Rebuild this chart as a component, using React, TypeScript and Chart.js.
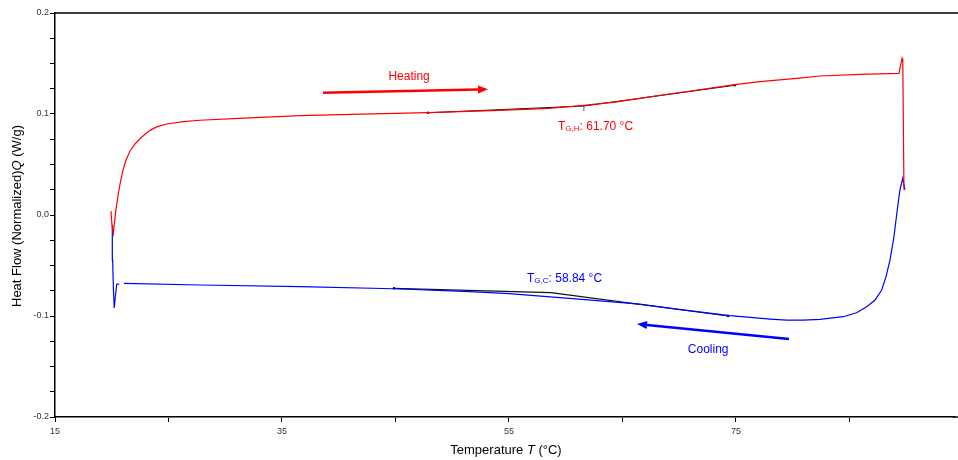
import React, { useEffect, useRef } from 'react';
import { Chart, registerables } from 'chart.js';

Chart.register(...registerables);

// ---- data (Temperature °C, normalized heat flow W/g) ----
const heatingT = [19.93, 20.02, 20.14, 20.24, 20.37, 20.55, 20.73, 20.99, 21.26, 21.61, 22.05, 22.49, 22.93, 23.37, 23.96, 24.84, 26.3, 27.78, 30.71, 33.65, 36.59, 42.0, 47.86, 54.2, 58.5, 61.6, 64.5, 67.4, 71.0, 74.9, 77.1, 80.6, 82.4, 85.9, 89.36, 89.63, 89.7, 89.8];
const heatingQ = [0.004, -0.010, -0.018, -0.0069, 0.005, 0.0188, 0.0307, 0.0446, 0.0545, 0.0634, 0.0703, 0.0755, 0.080, 0.0838, 0.0872, 0.0901, 0.0924, 0.0938, 0.0954, 0.097, 0.0983, 0.0998, 0.1013, 0.1035, 0.1056, 0.1086, 0.112, 0.117, 0.1228, 0.129, 0.132, 0.1356, 0.1376, 0.1393, 0.1403, 0.155, 0.151, 0.025];

const coolingT = [89.89, 89.69, 89.45, 89.21, 88.92, 88.57, 88.22, 87.84, 87.25, 86.52, 85.63, 84.45, 82.4, 80.93, 79.47, 78.0, 76.52, 74.47, 70.0, 66.5, 62.0, 58.35, 55.0, 51.56, 44.87, 36.59, 27.78, 21.08, 20.9, 20.67, 20.44, 20.33, 20.22, 20.15, 20.08, 20.05];
const coolingQ = [0.0248, 0.0363, 0.0248, 0.005, -0.0215, -0.0446, -0.0611, -0.0743, -0.0842, -0.0908, -0.0968, -0.1007, -0.1033, -0.104, -0.104, -0.103, -0.1017, -0.0997, -0.0935, -0.0883, -0.084, -0.0809, -0.0778, -0.0759, -0.073, -0.071, -0.0693, -0.0676, null, -0.0683, -0.0686, -0.0792, -0.0921, -0.0743, -0.0446, -0.0099];

const heatTangentT = [47.86, 61.6, 74.9];
const heatTangentQ = [0.1013, 0.1079, 0.1284];
const coolTangentT = [44.87, 58.7, 74.3];
const coolTangentQ = [-0.0726, -0.0769, -0.1];

// ---- ticks ----
const xTickValues = [15, 25, 35, 45, 55, 65, 75, 85];
const xTickLabels = ['15', '', '35', '', '55', '', '75', ''];
const yTickValues = [-0.2, -0.175, -0.15, -0.125, -0.1, -0.075, -0.05, -0.025, 0, 0.025, 0.05, 0.075, 0.1, 0.125, 0.15, 0.175, 0.2];
const yTickLabels = ['-0.2', '', '', '', '-0.1', '', '', '', '0.0', '', '', '', '0.1', '', '', '', '0.2'];

// ---- annotations (in data coordinates) ----
const heatingArrowT = [38.61, 53.15];
const heatingArrowQ = [0.1211, 0.1245];
const coolingArrowT = [79.67, 66.28];
const coolingArrowQ = [-0.1228, -0.1079];
const heatingLabelPos = [46.2, 0.1366];
const coolingLabelPos = [72.55, -0.1337];
const tghLabelPos = [59.32, 0.0874];
const tgcLabelPos = [56.59, -0.0634];

const FONT = '"Liberation Sans", Arial, Helvetica, sans-serif';
const RED = 'rgb(255,0,0)';
const BLUE = 'rgb(0,0,255)';

const pts = (xs: number[], ys: (number | null)[]) => xs.map((x, i) => ({ x, y: ys[i] }));

function drawArrow(ctx: CanvasRenderingContext2D, x1: number, y1: number, x2: number, y2: number, color: string) {
  const ang = Math.atan2(y2 - y1, x2 - x1);
  const headLen = 10;
  const headW = 4;
  const bx = x2 - Math.cos(ang) * headLen;
  const by = y2 - Math.sin(ang) * headLen;
  ctx.save();
  ctx.strokeStyle = color;
  ctx.fillStyle = color;
  ctx.lineWidth = 2.6;
  ctx.beginPath();
  ctx.moveTo(x1, y1);
  ctx.lineTo(bx, by);
  ctx.stroke();
  ctx.beginPath();
  ctx.moveTo(x2, y2);
  ctx.lineTo(bx + Math.sin(ang) * headW, by - Math.cos(ang) * headW);
  ctx.lineTo(bx - Math.sin(ang) * headW, by + Math.cos(ang) * headW);
  ctx.closePath();
  ctx.fill();
  ctx.restore();
}

function drawSubLabel(ctx: CanvasRenderingContext2D, x: number, y: number, sub: string, rest: string, color: string) {
  ctx.save();
  ctx.fillStyle = color;
  ctx.textBaseline = 'middle';
  ctx.textAlign = 'left';
  ctx.font = `12px ${FONT}`;
  ctx.fillText('T', x, y);
  let cx = x + ctx.measureText('T').width;
  ctx.font = `8px ${FONT}`;
  ctx.fillText(sub, cx, y + 2);
  cx += ctx.measureText(sub).width;
  ctx.font = `12px ${FONT}`;
  ctx.fillText(rest, cx, y);
  ctx.restore();
}

function drawMixed(ctx: CanvasRenderingContext2D, cx: number, cy: number, parts: [string, boolean][], size: number) {
  let total = 0;
  const widths = parts.map(([t, it]) => {
    ctx.font = `${it ? 'italic ' : ''}${size}px ${FONT}`;
    const w = ctx.measureText(t).width;
    total += w;
    return w;
  });
  let x = cx - total / 2;
  parts.forEach(([t, it], i) => {
    ctx.font = `${it ? 'italic ' : ''}${size}px ${FONT}`;
    ctx.fillText(t, x, cy);
    x += widths[i];
  });
}

const decorPlugin = {
  id: 'decor',
  afterDatasetsDraw(chart: any) {
    const { ctx, chartArea } = chart;
    const xs = chart.scales.x;
    const ys = chart.scales.y;
    ctx.save();
    // top frame line and bottom axis continued to the canvas edge
    ctx.strokeStyle = '#000';
    ctx.lineWidth = 1.5;
    ctx.beginPath();
    ctx.moveTo(chartArea.left, chartArea.top);
    ctx.lineTo(chart.width, chartArea.top);
    ctx.moveTo(chartArea.right - 1, chartArea.bottom);
    ctx.lineTo(chart.width, chartArea.bottom);
    ctx.stroke();

    // onset tick on heating tangent
    ctx.lineWidth = 0.8;
    ctx.strokeStyle = '#333';
    const ox = xs.getPixelForValue(heatTangentT[1]);
    const oy = ys.getPixelForValue(heatTangentQ[1]);
    ctx.beginPath();
    ctx.moveTo(ox, oy - 1);
    ctx.lineTo(ox, oy + 5);
    ctx.stroke();

    // axis titles
    ctx.fillStyle = '#000';
    ctx.textBaseline = 'middle';
    ctx.textAlign = 'left';
    drawMixed(ctx, 506, 450, [['Temperature ', false], ['T', true], [' (°C)', false]], 13);
    ctx.save();
    ctx.translate(17, 216);
    ctx.rotate(-Math.PI / 2);
    drawMixed(ctx, 0, 0, [['Heat Flow (Normalized)', false], ['Q', true], [' (W/g)', false]], 13);
    ctx.restore();

    // arrows
    drawArrow(ctx, xs.getPixelForValue(heatingArrowT[0]), ys.getPixelForValue(heatingArrowQ[0]),
      xs.getPixelForValue(heatingArrowT[1]), ys.getPixelForValue(heatingArrowQ[1]), RED);
    drawArrow(ctx, xs.getPixelForValue(coolingArrowT[0]), ys.getPixelForValue(coolingArrowQ[0]),
      xs.getPixelForValue(coolingArrowT[1]), ys.getPixelForValue(coolingArrowQ[1]), BLUE);

    // labels
    ctx.font = `12px ${FONT}`;
    ctx.textAlign = 'center';
    ctx.fillStyle = RED;
    ctx.fillText('Heating', xs.getPixelForValue(heatingLabelPos[0]), ys.getPixelForValue(heatingLabelPos[1]));
    ctx.fillStyle = BLUE;
    ctx.fillText('Cooling', xs.getPixelForValue(coolingLabelPos[0]), ys.getPixelForValue(coolingLabelPos[1]));
    drawSubLabel(ctx, xs.getPixelForValue(tghLabelPos[0]), ys.getPixelForValue(tghLabelPos[1]), 'G,H', ': 61.70 °C', RED);
    drawSubLabel(ctx, xs.getPixelForValue(tgcLabelPos[0]), ys.getPixelForValue(tgcLabelPos[1]), 'G,C', ': 58.84 °C', BLUE);
    ctx.restore();
  },
};

export default function App() {
  const ref = useRef<HTMLCanvasElement | null>(null);
  useEffect(() => {
    if (!ref.current) return;
    const endRadius = (c: any) => (c.dataIndex === 1 ? 0 : 1.3);
    const chart = new Chart(ref.current, {
      type: 'line',
      data: {
        datasets: [
          { label: 'Heating', data: pts(heatingT, heatingQ), borderColor: RED, borderWidth: 1.2, pointRadius: 0, tension: 0, spanGaps: false },
          { label: 'Cooling', data: pts(coolingT, coolingQ), borderColor: BLUE, borderWidth: 1.2, pointRadius: 0, tension: 0, spanGaps: false },
          { label: 'Heat tangent', data: pts(heatTangentT, heatTangentQ), borderColor: '#111', backgroundColor: '#111', borderWidth: 1.1, pointRadius: endRadius, pointBorderWidth: 0, tension: 0 },
          { label: 'Cool tangent', data: pts(coolTangentT, coolTangentQ), borderColor: '#111', backgroundColor: '#111', borderWidth: 1.1, pointRadius: endRadius, pointBorderWidth: 0, tension: 0 },
        ],
      },
      options: {
        responsive: false,
        animation: false,
        devicePixelRatio: 1,
        layout: { padding: { left: 0, right: 0, top: 13, bottom: 0 } },
        plugins: { legend: { display: false }, tooltip: { enabled: false } },
        scales: {
          x: {
            type: 'linear',
            min: 15,
            max: 94.21,
            afterBuildTicks: (s: any) => { s.ticks = xTickValues.map((v) => ({ value: v })); },
            afterFit: (s: any) => { s.height = 43; s.paddingLeft = 0; s.paddingRight = 0; },
            border: { display: true, color: '#000', width: 1.5 },
            grid: { display: true, drawOnChartArea: false, drawTicks: true, tickLength: 5, tickColor: '#000', tickWidth: 1 },
            ticks: {
              autoSkip: false,
              maxRotation: 0,
              padding: 4,
              color: '#333',
              font: { size: 9, family: FONT },
              callback: (_v: any, i: number) => xTickLabels[i],
            },
          },
          y: {
            type: 'linear',
            min: -0.2,
            max: 0.2,
            afterBuildTicks: (s: any) => { s.ticks = yTickValues.map((v) => ({ value: v })); },
            afterFit: (s: any) => { s.width = 55; s.paddingTop = 0; s.paddingBottom = 0; },
            border: { display: true, color: '#000', width: 1.5 },
            grid: { display: true, drawOnChartArea: false, drawTicks: true, tickLength: 5, tickColor: '#000', tickWidth: 1 },
            ticks: {
              autoSkip: false,
              padding: 1,
              color: '#333',
              font: { size: 9, family: FONT },
              callback: (_v: any, i: number) => yTickLabels[i],
            },
          },
        },
      },
      plugins: [decorPlugin],
    });
    return () => chart.destroy();
  }, []);
  return (
    <div style={{ position: 'absolute', left: 0, top: 0, width: 958, height: 460, background: '#fff' }}>
      <canvas ref={ref} width={958} height={460} style={{ display: 'block', width: 958, height: 460 }} />
    </div>
  );
}
